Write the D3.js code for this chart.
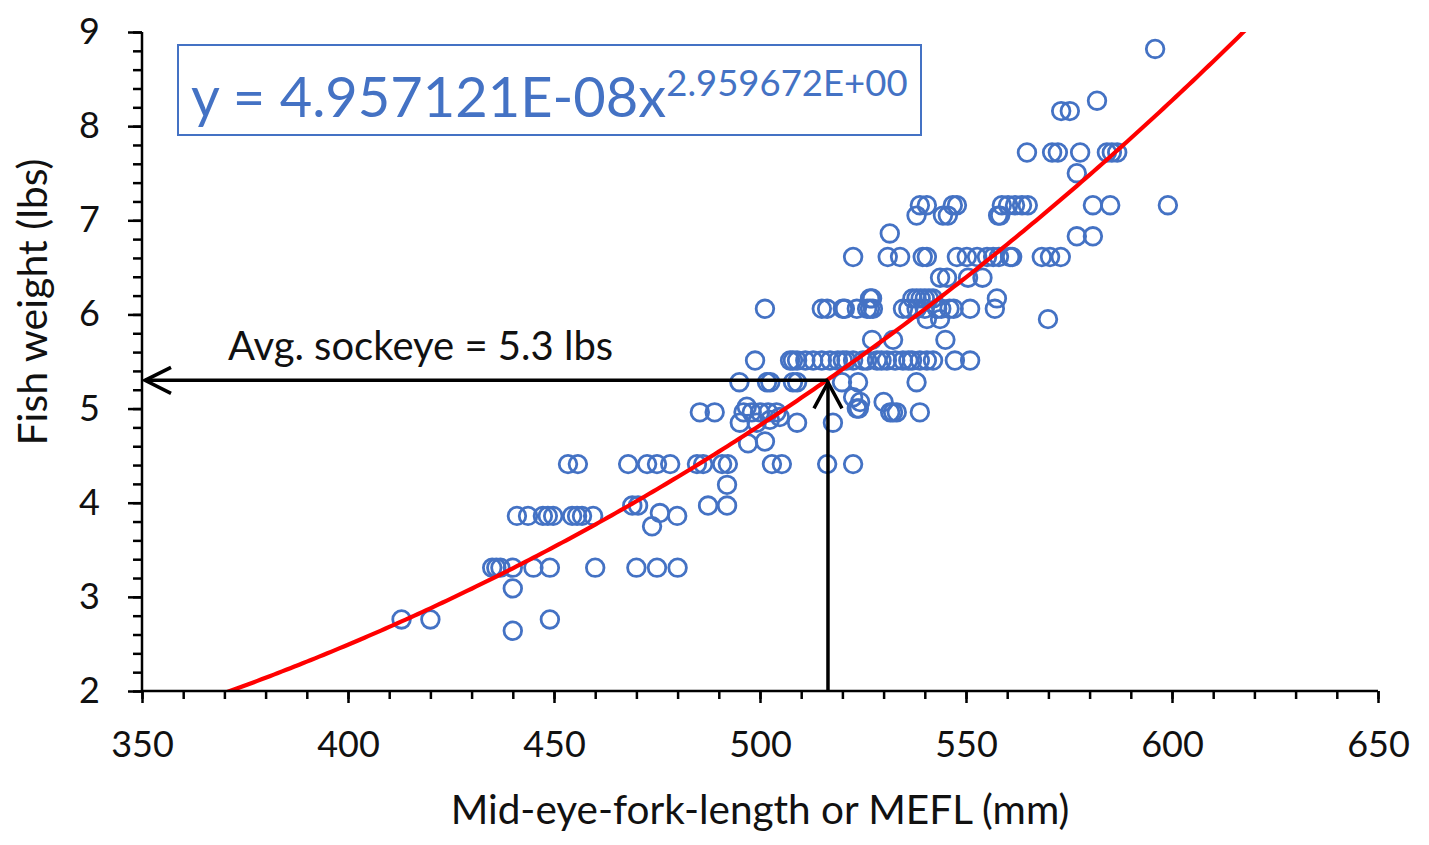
<!DOCTYPE html>
<html>
<head>
<meta charset="utf-8">
<script src="https://cdn.jsdelivr.net/npm/d3@7"></script>
<style>
  html, body { margin: 0; padding: 0; background: #fff; }
  svg { display: block; font-family: Lato, "Open Sans", sans-serif; }
</style>
</head>
<body>
<svg id="chart" width="1429" height="845"></svg>
<script>
// ---- data ----
const lengthMm = [
  413, 420, 449, 440, 440,
  435, 436, 437, 440, 445, 449, 460, 470, 475, 480,
  441, 443.7, 447.3, 448.5, 449.8, 454.4, 455.6, 456.8, 459.5, 479.9,
  469, 470.4, 487.4, 492, 475.7, 473.8,
  453.4, 455.8, 468, 472.6, 475, 478.2, 484.7, 486.2, 490.8, 492.2, 502.9, 505.3, 516.3, 522.6,
  492,
  485.4, 489, 496, 498, 500, 502, 504, 531.6, 533.2, 538.8, 532.3,
  496.8, 495.1, 499.2, 502.4, 504.8, 509, 517.7,
  497.1, 501.2,
  495, 501.7, 502.5, 508, 509, 519.9, 523.8, 538,
  523.5, 524, 530, 524.3, 522.6,
  498.8, 507.3, 508, 509, 511, 512.9, 515, 517, 518.9, 520.1, 521, 522.6, 525, 526, 528.4, 529.5, 530.8, 532.8, 534.7, 536, 536.9, 538.8, 540.5, 542, 547.3, 551,
  527.2, 532.3, 545,
  540.5, 543.7, 569.9,
  501.2, 515, 516.3, 520.1, 520.6, 523.5, 526, 526.7, 527.4, 534.7, 536, 538, 540, 543, 544, 546, 547, 551, 557,
  526.7, 527.2, 537, 538, 539, 540, 541, 542, 557.5,
  543.7, 545.4, 550.5, 554,
  522.6, 531, 534, 539.5, 540.5, 547.8, 550.2, 552.7, 555.1, 556.6, 558, 560.7, 561.2, 568.4, 570.4, 573,
  531.5, 576.9, 580.8,
  538, 544.4, 545.6, 557.8, 558.3,
  538.8, 540.5, 546.8, 547.8, 558.7, 560.2, 561.9, 563.6, 565, 580.8, 585, 599,
  576.9,
  564.8, 570.9, 572.3, 577.7, 584.2, 585.4, 586.7,
  573.1, 575.2, 581.8, 595.9
];
const weightLbs = [
  2.76, 2.76, 2.76, 2.64, 3.09,
  3.31, 3.31, 3.31, 3.31, 3.31, 3.31, 3.31, 3.31, 3.31, 3.31,
  3.86, 3.86, 3.86, 3.86, 3.86, 3.86, 3.86, 3.86, 3.86, 3.86,
  3.97, 3.97, 3.97, 3.97, 3.89, 3.75,
  4.41, 4.41, 4.41, 4.41, 4.41, 4.41, 4.41, 4.41, 4.41, 4.41, 4.41, 4.41, 4.41, 4.41,
  4.19,
  4.96, 4.96, 4.96, 4.96, 4.96, 4.96, 4.96, 4.96, 4.96, 4.96, 4.96,
  5.02, 4.85, 4.85, 4.88, 4.91, 4.85, 4.85,
  4.63, 4.65,
  5.28, 5.28, 5.28, 5.28, 5.28, 5.28, 5.28, 5.28,
  5.0, 5.0, 5.07, 5.07, 5.12,
  5.51, 5.51, 5.51, 5.51, 5.51, 5.51, 5.51, 5.51, 5.51, 5.51, 5.51, 5.51, 5.51, 5.51, 5.51, 5.51, 5.51, 5.51, 5.51, 5.51, 5.51, 5.51, 5.51, 5.51, 5.51, 5.51,
  5.73, 5.73, 5.73,
  5.95, 5.95, 5.95,
  6.06, 6.06, 6.06, 6.06, 6.06, 6.06, 6.06, 6.06, 6.06, 6.06, 6.06, 6.06, 6.06, 6.06, 6.06, 6.06, 6.06, 6.06, 6.06,
  6.17, 6.17, 6.17, 6.17, 6.17, 6.17, 6.17, 6.17, 6.17,
  6.39, 6.39, 6.39, 6.39,
  6.61, 6.61, 6.61, 6.61, 6.61, 6.61, 6.61, 6.61, 6.61, 6.61, 6.61, 6.61, 6.61, 6.61, 6.61, 6.61,
  6.86, 6.83, 6.83,
  7.05, 7.05, 7.05, 7.05, 7.05,
  7.16, 7.16, 7.16, 7.16, 7.16, 7.16, 7.16, 7.16, 7.16, 7.16, 7.16, 7.16,
  7.5,
  7.72, 7.72, 7.72, 7.72, 7.72, 7.72, 7.72,
  8.16, 8.16, 8.27, 8.82
];
const xTicks = [350, 400, 450, 500, 550, 600, 650];
const yTicks = [2, 3, 4, 5, 6, 7, 8, 9];
const fitCoef = 4.957121E-08;
const fitExp = 2.959672;
const eqMain = "y = 4.957121E-08x";
const eqSup = "2.959672E+00";
const avgLength = 516.5;
const avgWeight = 5.3;
const avgLabel = "Avg. sockeye = 5.3 lbs";
const xTitle = "Mid-eye-fork-length or MEFL (mm)";
const yTitle = "Fish weight (lbs)";

// ---- layout ----
const svg = d3.select("#chart");
const x = d3.scaleLinear().domain([350, 650]).range([142, 1378]);
const y = d3.scaleLinear().domain([2, 9]).range([691, 32]);
const blue = "#4472C4";

svg.append("defs").append("clipPath").attr("id", "plotclip")
  .append("rect").attr("x", x(350)).attr("y", y(9))
  .attr("width", x(650) - x(350)).attr("height", y(2) - y(9));

// points
svg.append("g").selectAll("circle")
  .data(d3.range(lengthMm.length))
  .join("circle")
  .attr("cx", i => x(lengthMm[i]))
  .attr("cy", i => y(weightLbs[i]))
  .attr("r", 8.8)
  .attr("fill", "none")
  .attr("stroke", blue)
  .attr("stroke-width", 2.8);

// trend curve from the fitted equation shown
const curveX = d3.range(365, 625.01, 1);
svg.append("path")
  .datum(curveX)
  .attr("clip-path", "url(#plotclip)")
  .attr("fill", "none")
  .attr("stroke", "#FF0000")
  .attr("stroke-width", 4.2)
  .attr("d", d3.line().x(d => x(d)).y(d => y(fitCoef * Math.pow(d, fitExp))));

// axes
const xAxisMinor = d3.axisBottom(x).tickValues(d3.range(350, 651, 10)).tickSize(8).tickFormat("");
const xAxisMajor = d3.axisBottom(x).tickValues(xTicks).tickSize(12).tickPadding(28).tickFormat(d3.format("d"));
const yAxisMinor = d3.axisLeft(y).tickValues(d3.range(2, 9.01, 0.2)).tickSize(9).tickFormat("");
const yAxisMajor = d3.axisLeft(y).tickValues(yTicks).tickSize(14).tickPadding(28).tickFormat(d3.format("d"));

function styleAxis(g) {
  g.select(".domain").attr("stroke", "#000").attr("stroke-width", 2.5);
  g.selectAll(".tick line").attr("stroke", "#000").attr("stroke-width", 2.5);
  g.selectAll(".tick text").attr("fill", "#111").style("font-size", "36px").style("font-family", "Lato, sans-serif");
}
svg.append("g").attr("transform", `translate(0,${y(2)})`).call(xAxisMinor).call(styleAxis);
svg.append("g").attr("transform", `translate(0,${y(2)})`).call(xAxisMajor).call(styleAxis);
svg.append("g").attr("transform", `translate(${x(350)},0)`).call(yAxisMinor).call(styleAxis);
svg.append("g").attr("transform", `translate(${x(350)},0)`).call(yAxisMajor).call(styleAxis);
svg.selectAll(".domain").attr("d", null);
svg.append("line").attr("x1", x(350)).attr("x2", x(650)).attr("y1", y(2)).attr("y2", y(2))
  .attr("stroke", "#000").attr("stroke-width", 2.5);
svg.append("line").attr("x1", x(350)).attr("x2", x(350)).attr("y1", y(2) + 1).attr("y2", y(9))
  .attr("stroke", "#000").attr("stroke-width", 2.5);

// axis titles
svg.append("text").attr("x", 760).attr("y", 824).attr("text-anchor", "middle")
  .style("font-size", "40.5px").attr("fill", "#111").text(xTitle);
svg.append("text").attr("transform", "translate(47,302) rotate(-90)").attr("text-anchor", "middle")
  .style("font-size", "41px").attr("fill", "#111").text(yTitle);

// arrows
const arrowG = svg.append("g").attr("stroke", "#000").attr("stroke-width", 3.5).attr("fill", "none");
const ax = x(avgLength), ay = y(avgWeight), left = x(350) + 3;
arrowG.append("line").attr("x1", ax).attr("y1", ay).attr("x2", left).attr("y2", ay);
arrowG.append("polyline").attr("points", `${left + 26},${ay - 13} ${left},${ay} ${left + 26},${ay + 13}`);
arrowG.append("line").attr("x1", ax).attr("y1", y(2)).attr("x2", ax).attr("y2", ay + 1);
arrowG.append("polyline").attr("points", `${ax - 14},${ay + 28} ${ax},${ay + 2} ${ax + 14},${ay + 28}`);

svg.append("text").attr("x", 228).attr("y", 360)
  .style("font-size", "40px").attr("fill", "#111").text(avgLabel);

// equation box
svg.append("rect").attr("x", 178).attr("y", 45).attr("width", 743).attr("height", 90)
  .attr("fill", "#fff").attr("stroke", blue).attr("stroke-width", 2);
const eq = svg.append("text").attr("x", 191).attr("y", 117).attr("fill", blue);
eq.append("tspan").style("font-size", "56px").text(eqMain);
eq.append("tspan").attr("dy", -21).style("font-size", "36.5px").text(eqSup);
</script>
</body>
</html>
